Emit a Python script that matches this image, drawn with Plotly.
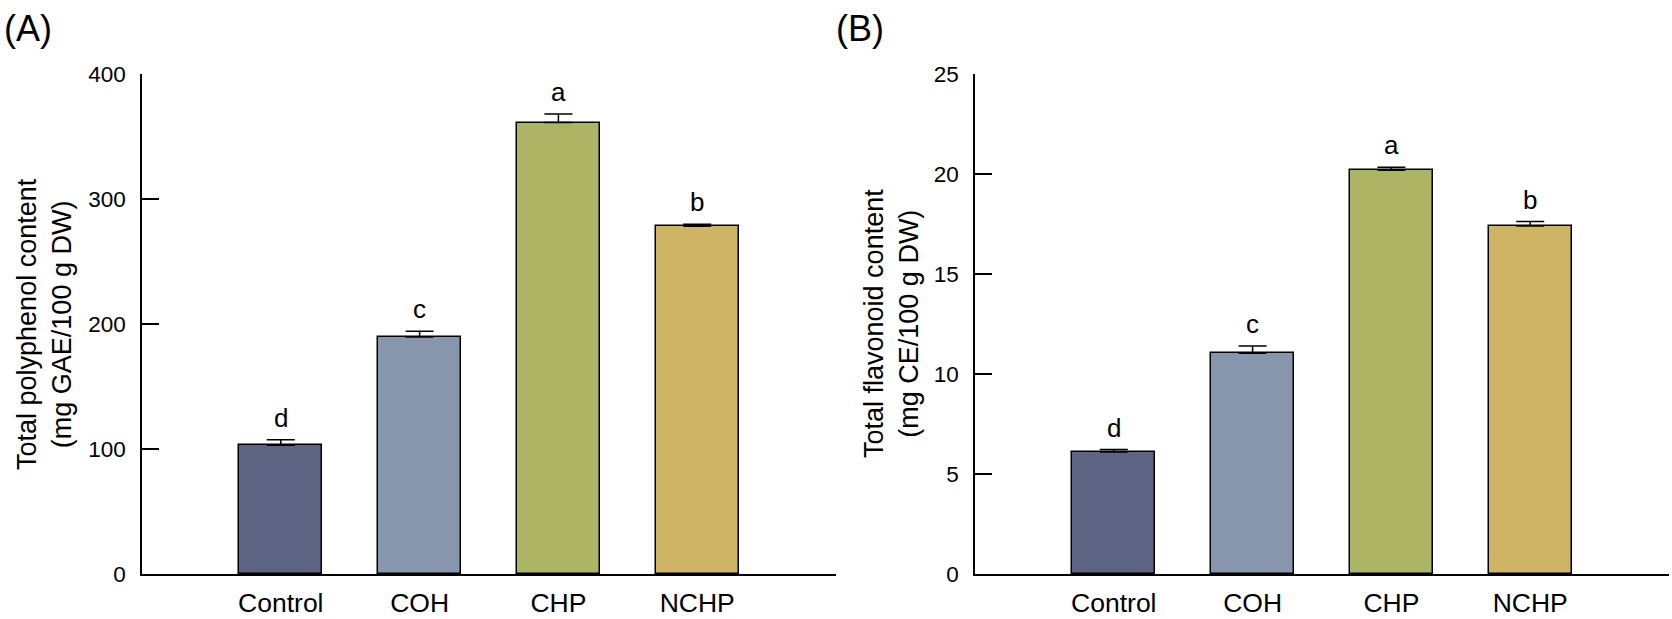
import plotly.graph_objects as go

categories = ["Control", "COH", "CHP", "NCHP"]
polyphenol = [103.0, 189.6, 361.2, 278.2]
polyphenol_err = [4.4, 4.6, 6.9, 1.6]
flavonoid = [6.1, 11.04, 20.19, 17.40]
flavonoid_err = [0.12, 0.36, 0.15, 0.22]
letters_a = ["d", "c", "a", "b"]
letters_b = ["d", "c", "a", "b"]
colors = ["#5E6484", "#8796AC", "#ADB565", "#CFB465"]
positions = [1, 2, 3, 4]

W, H = 1672, 619
FONT = "Liberation Sans, Arial, sans-serif"

fig = go.Figure()

def add_panel(vals, errs, xa, ya):
    fig.add_trace(go.Bar(
        x=positions, y=vals, width=0.6,
        marker=dict(color=colors, line=dict(color="black", width=1.5)),
        error_y=dict(type="data", symmetric=False, array=errs,
                     arrayminus=[0] * len(errs), color="black",
                     thickness=1.5, width=14),
        xaxis=xa, yaxis=ya, showlegend=False,
    ))

add_panel(polyphenol, polyphenol_err, "x", "y")
add_panel(flavonoid, flavonoid_err, "x2", "y2")

ydom = [45 / H, 545 / H]
xcommon = dict(range=[0, 5], tickvals=positions, ticktext=categories,
               showline=True, linecolor="black", linewidth=1.5, ticks="",
               showgrid=False, zeroline=False, automargin=False,
               tickfont=dict(family=FONT, size=26.5, color="black"),
               ticklabelstandoff=4)
ycommon = dict(showline=True, linecolor="black", linewidth=1.5,
               ticks="inside", ticklen=17, tickwidth=1.5, tickcolor="black",
               showgrid=False, zeroline=False, automargin=False,
               tickfont=dict(family=FONT, size=22.5, color="black"),
               ticklabelstandoff=10)

fig.update_layout(
    width=W, height=H,
    margin=dict(l=0, r=0, t=0, b=0, pad=0, autoexpand=False),
    paper_bgcolor="white", plot_bgcolor="white",
    bargap=0,
    xaxis=dict(domain=[142 / W, 836 / W], anchor="y", **xcommon),
    yaxis=dict(domain=ydom, anchor="x", range=[0, 400], dtick=100, **ycommon),
    xaxis2=dict(domain=[975 / W, 1669 / W], anchor="y2", **xcommon),
    yaxis2=dict(domain=ydom, anchor="x2", range=[0, 25], dtick=5, **ycommon),
)

annotations = []
for xi, v, e, t in zip(positions, polyphenol, polyphenol_err, letters_a):
    annotations.append(dict(x=xi, y=v + e, xref="x", yref="y", text=t,
                            showarrow=False, yanchor="bottom", yshift=5,
                            font=dict(family=FONT, size=26, color="black")))
for xi, v, e, t in zip(positions, flavonoid, flavonoid_err, letters_b):
    annotations.append(dict(x=xi, y=v + e, xref="x2", yref="y2", text=t,
                            showarrow=False, yanchor="bottom", yshift=5,
                            font=dict(family=FONT, size=26, color="black")))

annotations.append(dict(x=2 / W, y=1 - 28 / H, xref="paper", yref="paper",
                        text="(A)", showarrow=False, xanchor="left", yanchor="middle",
                        font=dict(family=FONT, size=36, color="black")))
annotations.append(dict(x=834 / W, y=1 - 28 / H, xref="paper", yref="paper",
                        text="(B)", showarrow=False, xanchor="left", yanchor="middle",
                        font=dict(family=FONT, size=36, color="black")))

annotations.append(dict(x=44 / W, y=1 - 324 / H, xref="paper", yref="paper",
                        text="Total polyphenol content<br>(mg GAE/100 g DW)",
                        textangle=-90, showarrow=False, xanchor="center", yanchor="middle",
                        font=dict(family=FONT, size=27, color="black")))
annotations.append(dict(x=891 / W, y=1 - 324 / H, xref="paper", yref="paper",
                        text="Total flavonoid content<br>(mg CE/100 g DW)",
                        textangle=-90, showarrow=False, xanchor="center", yanchor="middle",
                        font=dict(family=FONT, size=27, color="black")))

fig.update_layout(annotations=annotations)

fig.write_html("out.html")
